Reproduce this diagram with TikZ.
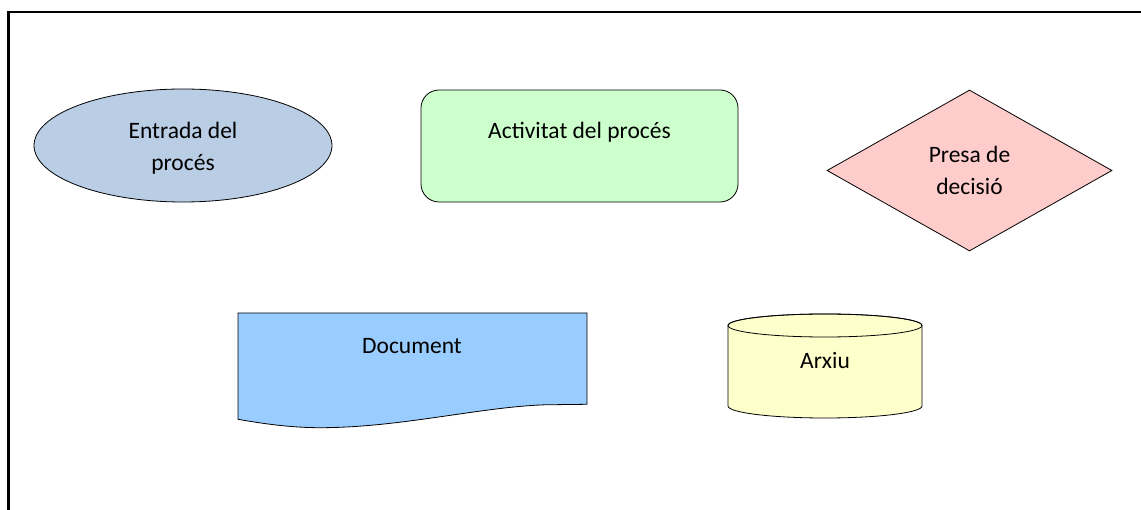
\documentclass[tikz,border=0pt]{standalone}
\usepackage{fontspec}
\setmainfont{Carlito}
\usetikzlibrary{shapes.geometric}
\definecolor{entradac}{RGB}{185,205,229}
\definecolor{activc}{RGB}{204,255,204}
\definecolor{decisc}{RGB}{255,204,204}
\definecolor{docc}{RGB}{153,204,255}
\definecolor{arxiuc}{RGB}{255,255,204}
\begin{document}
\begin{tikzpicture}[x=1pt,y=1pt,
  txt/.style={font=\fontsize{23.5}{32}\selectfont, align=center, inner sep=0pt, text=black},
  outline/.style={draw=black, line width=0.8pt},
  inputbox/.style={outline, ellipse, fill=entradac, minimum width=298pt, minimum height=113pt, inner sep=0pt},
  taskbox/.style={outline, rectangle, rounded corners=18pt, fill=activc, minimum width=317pt, minimum height=112pt, inner sep=0pt},
  choicebox/.style={outline, diamond, fill=decisc, minimum width=285pt, minimum height=161pt, inner sep=0pt, txt}]
\useasboundingbox (0,0) rectangle (1141,-510);
% page frame: only top and left edges are visible
\draw[line width=2.5pt, line join=miter] (8.3,-510) -- (8.3,-12) -- (1141,-12);

% process input
\node[inputbox] (entrada) at (183,-145.5) {};
\node[txt] (entrada-txt) at (183,-148.5) {Entrada del\\procés};

% process activity
\node[taskbox] (activitat) at (579.5,-146) {};
\node[txt] (activitat-txt) at (579.5,-132) {Activitat del procés};

% decision
\node[choicebox] (decisio) at (969.5,-170.5) {Presa de\\decisió};

% document with wavy lower edge
\coordinate (doc-tl) at (238,-313);
\coordinate (doc-tr) at (587,-313);
\filldraw[outline, fill=docc] (doc-tl) -- (doc-tr) -- (587,-404.3) -- (545,-404.8)
  .. controls (480,-407) and (400,-427.7) .. (320,-427.7)
  .. controls (290,-427.7) and (262,-423.5) .. (238,-419.3) -- cycle;
\node[txt] (document) at (412,-346.5) {Document};

% stored data (cylinder)
\coordinate (arxiu-top) at (825,-325.5);
\filldraw[outline, fill=arxiuc] (728,-325.5) -- (728,-406)
  arc[start angle=180, end angle=360, x radius=97, y radius=12] -- (922,-325.5)
  arc[start angle=0, end angle=180, x radius=97, y radius=11.5] -- cycle;
\draw[outline] (arxiu-top) ellipse[x radius=97, y radius=11.5];
\node[txt] (arxiu) at (825,-361) {Arxiu};
\end{tikzpicture}
\end{document}
